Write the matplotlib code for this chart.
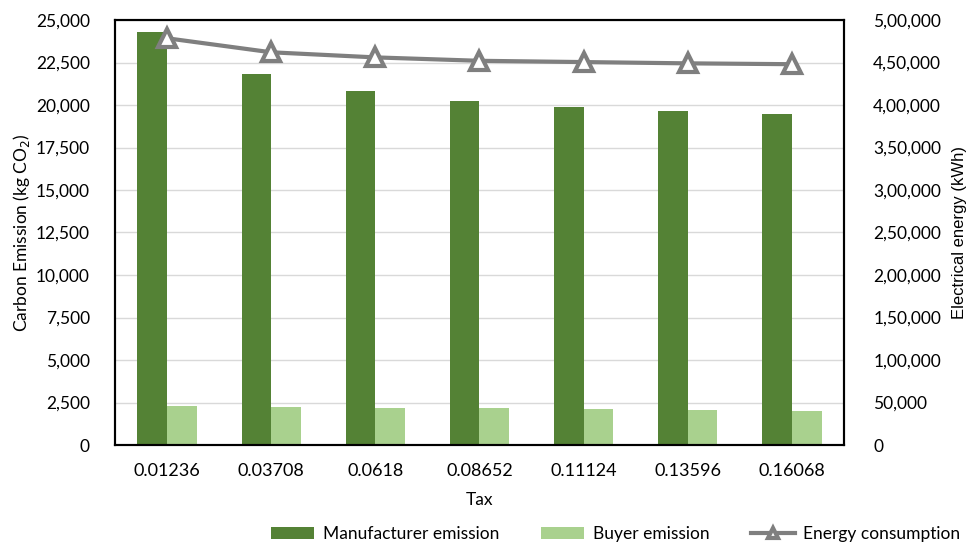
import matplotlib.pyplot as plt
import numpy as np
from matplotlib.ticker import FuncFormatter, MultipleLocator

plt.rcParams['font.family'] = ['Lato', 'DejaVu Sans']

tax = ['0.01236', '0.03708', '0.0618', '0.08652', '0.11124', '0.13596', '0.16068']
manufacturer = [24300, 21800, 20800, 20250, 19900, 19650, 19450]
buyer = [2300, 2250, 2200, 2150, 2100, 2050, 2000]
energy = [478500, 462000, 456000, 452000, 450500, 449000, 448000]


def indian(v, pos):
    v = int(round(v))
    s = str(v)
    if len(s) <= 3:
        return s
    head, tail = s[:-3], s[-3:]
    parts = []
    while len(head) > 2:
        parts.insert(0, head[-2:])
        head = head[:-2]
    if head:
        parts.insert(0, head)
    return ','.join(parts + [tail])


fig = plt.figure(figsize=(9.79, 5.46), dpi=100)
ax = fig.add_axes([115 / 979, 1 - 445 / 546, 729 / 979, 425 / 546])
ax2 = ax.twinx()

x = np.arange(len(tax))
w = 0.284
ax.bar(x - w / 2, manufacturer, w, color='#548235', label='Manufacturer emission', zorder=2)
ax.bar(x + w / 2, buyer, w, color='#A9D18E', label='Buyer emission', zorder=2)

ax2.plot(x, energy, color='#7F7F7F', lw=3, marker='^', markersize=13,
         markerfacecolor='white', markeredgecolor='#7F7F7F', markeredgewidth=3,
         label='Energy consumption', zorder=3)

ax.set_xlim(-0.5, len(tax) - 0.5)
ax.set_ylim(0, 25000)
ax2.set_ylim(0, 500000)
ax.yaxis.set_major_locator(MultipleLocator(2500))
ax2.yaxis.set_major_locator(MultipleLocator(50000))
ax.yaxis.set_major_formatter(FuncFormatter(lambda v, p: f'{int(v):,}'))
ax2.yaxis.set_major_formatter(FuncFormatter(indian))

ax.grid(axis='y', color='#D9D9D9', lw=1, zorder=0)
ax.set_axisbelow(True)
ax.set_xticks(x)
ax.set_xticklabels(tax)
fs = 12.5
ax.tick_params(length=0, labelsize=fs, colors='#000000')
ax.tick_params(axis='y', pad=18)
ax.tick_params(axis='x', labelsize=13, pad=13)
ax2.tick_params(length=0, labelsize=fs, pad=21)

for a in (ax, ax2):
    for s in a.spines.values():
        s.set_color('black')
        s.set_linewidth(1.5)

ax.set_xlabel('Tax', fontsize=fs, labelpad=9)
ax.set_ylabel('Carbon Emission (kg CO$_2$)', fontsize=fs, labelpad=3)
ax2.set_ylabel('Electrical energy (kWh)', fontsize=12, family=['Liberation Sans', 'DejaVu Sans'], labelpad=8)

h1, l1 = ax.get_legend_handles_labels()
h2, l2 = ax2.get_legend_handles_labels()
fig.legend(h1 + h2, l1 + l2, ncol=3, loc='center left', bbox_to_anchor=(255 / 979, 1 - 534 / 546),
           frameon=False, fontsize=12.5, handlelength=2.5, handletextpad=0.5,
           columnspacing=2.4, markerscale=0.5)

fig.savefig('out.png', dpi=100)
